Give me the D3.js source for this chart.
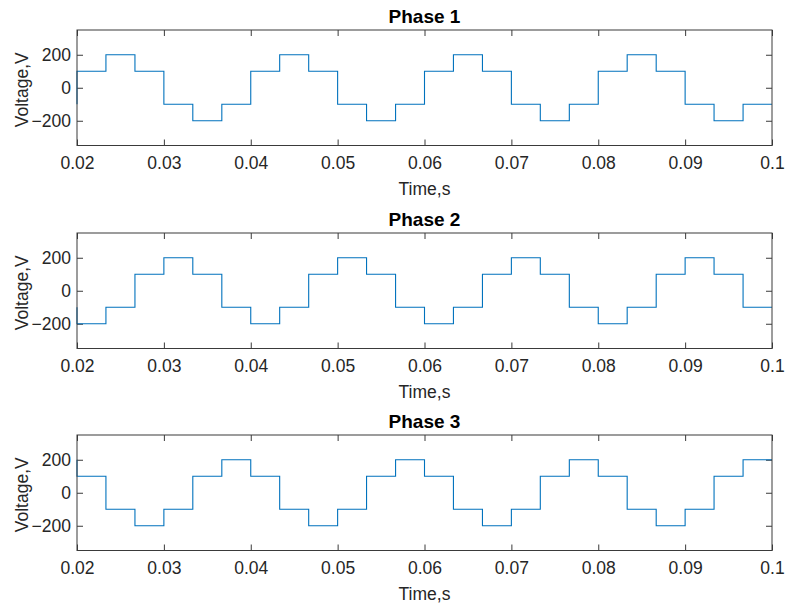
<!DOCTYPE html>
<html>
<head>
<meta charset="utf-8">
<script src="https://cdn.jsdelivr.net/npm/d3@7"></script>
<style>
  body { margin: 0; background: #fff; }
  svg { display: block; }
  .tick text { font-family: "Liberation Sans", Arial, sans-serif; }
</style>
</head>
<body>
<div id="chart"></div>
<script>
// step edges in seconds (each step lasts one sixth of the 0.02 s period)
var stepTimes = [0.02, 0.02333, 0.02667, 0.03, 0.03333, 0.03667,
                 0.04, 0.04333, 0.04667, 0.05, 0.05333, 0.05667,
                 0.06, 0.06333, 0.06667, 0.07, 0.07333, 0.07667,
                 0.08, 0.08333, 0.08667, 0.09, 0.09333, 0.09667, 0.1];

// first entry = value just before 0.02, then one value per step
var phase1 = [-100,
  100, 200, 100, -100, -200, -100,
  100, 200, 100, -100, -200, -100,
  100, 200, 100, -100, -200, -100,
  100, 200, 100, -100, -200, -100];
var phase2 = [-100,
  -200, -100, 100, 200, 100, -100,
  -200, -100, 100, 200, 100, -100,
  -200, -100, 100, 200, 100, -100,
  -200, -100, 100, 200, 100, -100];
var phase3 = [200,
  100, -100, -200, -100, 100, 200,
  100, -100, -200, -100, 100, 200,
  100, -100, -200, -100, 100, 200,
  100, -100, -200, -100, 100, 200];

var titles = ["Phase 1", "Phase 2", "Phase 3"];
var xTicks = [0.02, 0.03, 0.04, 0.05, 0.06, 0.07, 0.08, 0.09, 0.1];
var xTickLabels = ["0.02", "0.03", "0.04", "0.05", "0.06", "0.07", "0.08", "0.09", "0.1"];
var yTicks = [-200, 0, 200];
var yDomain = [-350, 350];

var width = 786,
    height = 605,
    left = 77,
    right = 772,
    tops = [30, 233, 435],
    plotH = 115.5,
    axisColor = "#3a3a3a",
    font = "'Liberation Sans', Arial, Helvetica, sans-serif";

var svg = d3.select("#chart").append("svg")
  .attr("width", width)
  .attr("height", height);

var xScale = d3.scaleLinear().domain([0.02, 0.1]).range([left, right]);

// turn a value list into corner points of a step line
function stepPoints(values) {
  var pts = [[stepTimes[0], values[0]]];
  for (var i = 0; i < stepTimes.length - 1; i++) {
    pts.push([stepTimes[i], values[i + 1]]);
    pts.push([stepTimes[i + 1], values[i + 1]]);
  }
  return pts;
}

[phase1, phase2, phase3].forEach(function (values, k) {
  var top = tops[k];
  var yScale = d3.scaleLinear().domain(yDomain).range([top + plotH, top]);

  var g = svg.append("g");

  // bottom + top x axes, ticks pointing inward
  g.append("g")
    .attr("transform", "translate(0," + (top + plotH) + ")")
    .call(d3.axisBottom(xScale).tickValues(xTicks)
      .tickFormat(function (d, i) { return xTickLabels[i]; })
      .tickSizeInner(-6).tickSizeOuter(0).tickPadding(11))
    .call(function (a) {
      a.select(".domain").remove();
      a.selectAll("line").attr("stroke", axisColor);
      a.selectAll("text").attr("fill", "#262626").style("font-size", "17.5px");
    });
  g.append("g")
    .attr("transform", "translate(0," + top + ")")
    .call(d3.axisTop(xScale).tickValues(xTicks).tickFormat("")
      .tickSizeInner(-6).tickSizeOuter(0))
    .call(function (a) {
      a.select(".domain").remove();
      a.selectAll("line").attr("stroke", axisColor);
    });

  // left + right y axes
  g.append("g")
    .attr("transform", "translate(" + left + ",0)")
    .call(d3.axisLeft(yScale).tickValues(yTicks)
      .tickSizeInner(-6).tickSizeOuter(0).tickPadding(6))
    .call(function (a) {
      a.select(".domain").remove();
      a.selectAll("line").attr("stroke", axisColor);
      a.selectAll("text").attr("fill", "#262626").style("font-size", "17.5px");
    });
  g.append("g")
    .attr("transform", "translate(" + right + ",0)")
    .call(d3.axisRight(yScale).tickValues(yTicks).tickFormat("")
      .tickSizeInner(-6).tickSizeOuter(0))
    .call(function (a) {
      a.select(".domain").remove();
      a.selectAll("line").attr("stroke", axisColor);
    });

  // the signal
  var line = d3.line()
    .x(function (d) { return xScale(d[0]); })
    .y(function (d) { return yScale(d[1]); });

  g.append("path")
    .datum(stepPoints(values))
    .attr("d", line)
    .attr("fill", "none")
    .attr("stroke", "#0072BD")
    .attr("stroke-width", 1.1);

  // box
  g.append("rect")
    .attr("x", left)
    .attr("y", top)
    .attr("width", right - left)
    .attr("height", plotH)
    .attr("fill", "none")
    .attr("stroke", axisColor)
    .attr("stroke-width", 1);

  // title and labels
  g.append("text")
    .attr("x", (left + right) / 2)
    .attr("y", top - 7)
    .attr("text-anchor", "middle")
    .attr("font-family", font)
    .attr("font-weight", "bold")
    .attr("font-size", "19px")
    .attr("fill", "#000")
    .text(titles[k]);

  g.append("text")
    .attr("x", (left + right) / 2)
    .attr("y", top + plotH + 49)
    .attr("text-anchor", "middle")
    .attr("font-family", font)
    .attr("font-size", "17.5px")
    .attr("fill", "#262626")
    .text("Time,s");

  g.append("text")
    .attr("transform", "translate(28," + (top + plotH / 2 + 2) + ") rotate(-90)")
    .attr("text-anchor", "middle")
    .attr("font-family", font)
    .attr("font-size", "17.5px")
    .attr("fill", "#262626")
    .text("Voltage,V");
});
</script>
</body>
</html>
